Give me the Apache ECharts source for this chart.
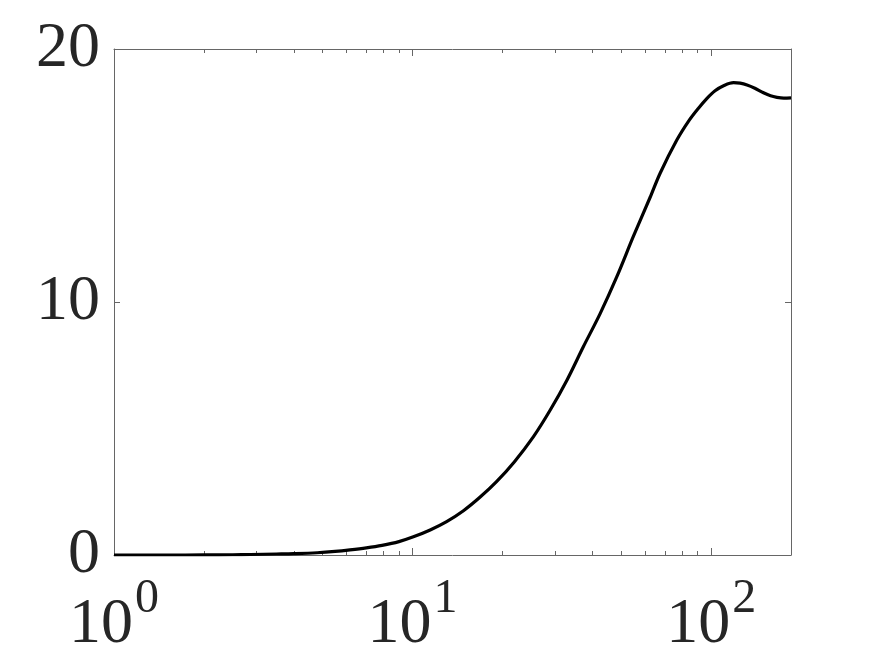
<!DOCTYPE html>
<html>
<head>
<meta charset="utf-8">
<script src="https://cdn.jsdelivr.net/npm/echarts@6/dist/echarts.min.js"></script>
<style>
html,body{margin:0;padding:0;background:#fff;}
#chart{width:875px;height:657px;}
</style>
</head>
<body>
<div id="chart"></div>
<script>
// Data
const xValues = [1, 1.5, 2, 2.5, 2.86, 3.5, 4, 4.79, 5.5, 6.17, 7, 7.9, 9, 10.06, 11.45, 13.0, 14.8, 16.8, 19.1, 21.9, 25.4, 28.9, 32.9, 37.3, 42.5, 48.3, 54.9, 62.5, 67.5, 76.7, 84, 90.5, 96.8, 103, 110, 118.8, 125, 131.8, 140, 149.6, 158, 166, 175, 185];
const yValues = [0, 0, 0.003, 0.01, 0.02, 0.04, 0.055, 0.09, 0.14, 0.2, 0.28, 0.38, 0.53, 0.72, 0.99, 1.32, 1.75, 2.28, 2.9, 3.68, 4.68, 5.73, 6.92, 8.23, 9.55, 11.0, 12.6, 14.15, 15.1, 16.4, 17.15, 17.65, 18.05, 18.35, 18.55, 18.67, 18.65, 18.58, 18.45, 18.27, 18.15, 18.09, 18.06, 18.07];
const xMajorTicks = [1, 10, 100];
const xMinorTicks = [2, 3, 4, 5, 6, 7, 8, 9, 20, 30, 40, 50, 60, 70, 80, 90];
const yTickValues = [0, 10, 20];
const xMin = 1, xMax = 185, yMin = 0, yMax = 20;

const axisColor = '#666666';
const textColor = '#262626';
const fontFamily = '"Liberation Serif", "DejaVu Serif", serif';

function xAxisDef(position, ticks, len, showLine, showLabels) {
  return {
    type: 'log', logBase: 10, min: xMin, max: xMax, position: position,
    axisLine: { show: showLine, onZero: false, lineStyle: { color: axisColor, width: 1 } },
    axisTick: { show: true, inside: true, length: len, customValues: ticks, lineStyle: { color: axisColor, width: 1 } },
    axisLabel: showLabels ? {
      show: true, customValues: xMajorTicks, margin: 20,
      formatter: function (v) { return '{b|10}{s|' + Math.round(Math.log10(v)) + '}'; },
      rich: {
        b: { fontFamily: fontFamily, fontSize: 64, lineHeight: 100, color: textColor, verticalAlign: 'middle' },
        s: { fontFamily: fontFamily, fontSize: 48, lineHeight: 48, color: textColor, verticalAlign: 'top', padding: [0, 0, 0, 2] }
      }
    } : { show: false },
    splitLine: { show: false }, minorTick: { show: false }, minorSplitLine: { show: false }
  };
}
function yAxisDef(position, showLabels) {
  return {
    type: 'value', min: yMin, max: yMax, interval: 10, position: position,
    axisLine: { show: true, onZero: false, lineStyle: { color: axisColor, width: 1 } },
    axisTick: { show: true, inside: true, length: 6, customValues: yTickValues, lineStyle: { color: axisColor, width: 1 } },
    axisLabel: showLabels ? { show: true, margin: 14, fontFamily: fontFamily, fontSize: 64, color: textColor, padding: [0, 0, 10, 0] } : { show: false },
    splitLine: { show: false }
  };
}

const chart = echarts.init(document.getElementById('chart'), null, { renderer: 'canvas' });
chart.setOption({
  animation: false,
  backgroundColor: '#ffffff',
  grid: { left: 114, top: 49, right: 84, bottom: 102, containLabel: false },
  xAxis: [
    xAxisDef('bottom', xMajorTicks, 7, true, true),
    xAxisDef('bottom', xMinorTicks, 4, false, false),
    xAxisDef('top', xMajorTicks, 7, true, false),
    xAxisDef('top', xMinorTicks, 4, false, false)
  ],
  yAxis: [yAxisDef('left', true), yAxisDef('right', false)],
  series: [{
    type: 'line', xAxisIndex: 0, yAxisIndex: 0,
    data: xValues.map((x, i) => [x, yValues[i]]),
    showSymbol: false, smooth: 0.35,
    lineStyle: { color: '#000000', width: 3.2 },
    z: 5
  }]
});
</script>
</body>
</html>
